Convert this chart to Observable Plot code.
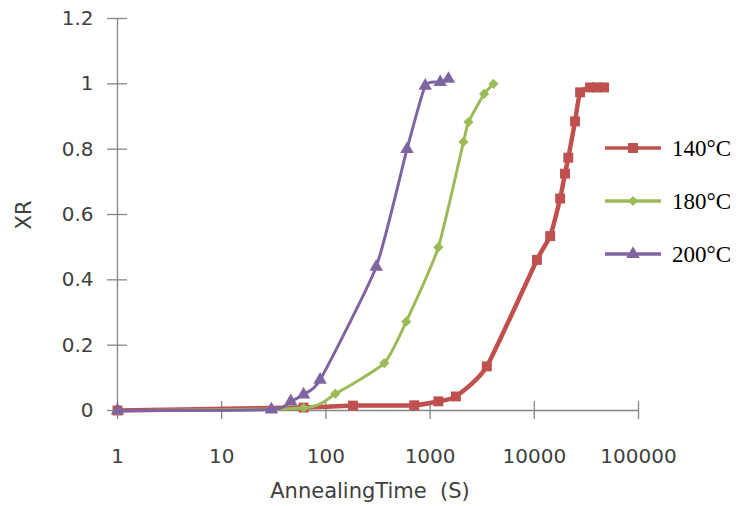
<!DOCTYPE html>
<html><head><meta charset="utf-8">
<script src="https://cdn.jsdelivr.net/npm/d3@7"></script>
<script src="https://cdn.jsdelivr.net/npm/@observablehq/plot@0.6"></script>
<style>
body{margin:0;background:#fff;}
#wrap{position:relative;width:736px;height:506px;overflow:hidden;}
.lab{position:absolute;font-family:"DejaVu Sans";font-size:21px;color:#404040;line-height:1;white-space:pre;}
.leg{position:absolute;left:605px;display:flex;align-items:center;font-family:"Liberation Serif";font-size:23px;color:#000;line-height:1;}
.leg svg{margin-right:11px;}
</style></head><body><div id="wrap"></div>
<script>
const seriesNames = ["140°C", "180°C", "200°C"];
const seriesColors = ["#C0504D", "#9BBB59", "#8064A2"];
const t140 = [1, 61, 182, 704, 1200, 1770, 3500, 10600, 14200, 17700, 19700, 21200, 24600, 27500, 34300, 40000, 46800];
const xr140 = [0, 0.009, 0.015, 0.016, 0.028, 0.043, 0.135, 0.461, 0.534, 0.649, 0.725, 0.774, 0.885, 0.974, 0.989, 0.989, 0.989];
const t180 = [1, 61, 123, 363, 590, 1200, 2090, 2335, 3300, 4055];
const xr180 = [0, 0.008, 0.051, 0.145, 0.272, 0.50, 0.822, 0.883, 0.969, 1.0];
const t200 = [1, 30, 46, 61, 88, 304, 600, 898, 1250, 1500];
const xr200 = [0, 0.003, 0.028, 0.049, 0.094, 0.44, 0.80, 0.994, 1.005, 1.015];
const xTicks = [1, 10, 100, 1000, 10000, 100000];
const yTicks = [0, 0.2, 0.4, 0.6, 0.8, 1, 1.2];
const xTitle = "AnnealingTime  (S)";
const yTitle = "XR";

const rows = (ts, vs) => ts.map((t, i) => ({t, xr: vs[i]}));
const series = [
  {name: seriesNames[0], color: seriesColors[0], data: rows(t140, xr140), symbol: "square", r: 5.6, sw: 4.5},
  {name: seriesNames[1], color: seriesColors[1], data: rows(t180, xr180), symbol: "diamond2", r: 4.6, sw: 3},
  {name: seriesNames[2], color: seriesColors[2], data: rows(t200, xr200), symbol: "triangle", r: 5, sw: 3}
];
const axisColor = "#868686";
const fmt = d => String(d);

const marks = [
  Plot.axisY({ticks: yTicks, tickSize: 0, tickPadding: 24, tickFormat: fmt, label: null}),
  Plot.axisX({ticks: xTicks, tickSize: 0, tickPadding: 38, tickFormat: fmt, label: null}),
  Plot.ruleX([xTicks[0]], {y1: yTicks[0], y2: yTicks[yTicks.length - 1], stroke: axisColor, strokeWidth: 1.3}),
  Plot.ruleY([yTicks[0]], {x1: xTicks[0], x2: xTicks[xTicks.length - 1], stroke: axisColor, strokeWidth: 1.3}),
  Plot.ruleY(yTicks, {x1: xTicks[0], x2: xTicks[0], insetLeft: -10, insetRight: -10, stroke: axisColor, strokeWidth: 1.3}),
  Plot.ruleX(xTicks, {y1: yTicks[0], y2: yTicks[0], insetTop: -9, insetBottom: -9, stroke: axisColor, strokeWidth: 1.3})
];
for (const s of series) {
  marks.push(Plot.line(s.data, {x: "t", y: "xr", stroke: s.color, strokeWidth: s.sw, curve: "cardinal", tension: 0.45}));
  marks.push(Plot.dot(s.data, {x: "t", y: "xr", symbol: s.symbol, r: s.r, fill: s.color, stroke: "none"}));
}

const chart = Plot.plot({
  width: 736, height: 506,
  marginLeft: 117, marginRight: 98, marginTop: 18, marginBottom: 96,
  x: {type: "log", domain: [xTicks[0], xTicks[xTicks.length - 1]]},
  y: {domain: [yTicks[0], yTicks[yTicks.length - 1]]},
  style: {fontFamily: "DejaVu Sans", fontSize: "20px", color: "#404040", background: "white", overflow: "visible"},
  marks
});
const wrap = document.getElementById("wrap");
wrap.appendChild(chart);

const xt = document.createElement("div");
xt.className = "lab"; xt.textContent = xTitle;
xt.style.left = "370px"; xt.style.top = "481px"; xt.style.transform = "translateX(-50%)";
wrap.appendChild(xt);
const yt = document.createElement("div");
yt.className = "lab"; yt.textContent = yTitle;
yt.style.left = "24px"; yt.style.top = "215px"; yt.style.transform = "translate(-50%,-50%) rotate(-90deg)";
wrap.appendChild(yt);

const legY = [148, 201, 254];
series.forEach((s, i) => {
  const row = document.createElement("div");
  row.className = "leg";
  row.style.top = (legY[i] - 12) + "px";
  row.style.height = "24px";
  const sv = d3.create("svg").attr("width", 56).attr("height", 24);
  sv.append("line").attr("x1", 0).attr("x2", 56).attr("y1", 12).attr("y2", 12)
    .attr("stroke", s.color).attr("stroke-width", 3.5);
  const sym = {square: d3.symbolSquare, diamond2: d3.symbolDiamond2, triangle: d3.symbolTriangle}[s.symbol];
  sv.append("path").attr("d", d3.symbol(sym, Math.PI * s.r * s.r)()).attr("transform", "translate(28,12)").attr("fill", s.color);
  row.appendChild(sv.node());
  const tx = document.createElement("span");
  tx.textContent = s.name;
  row.appendChild(tx);
  wrap.appendChild(row);
});
</script></body></html>
